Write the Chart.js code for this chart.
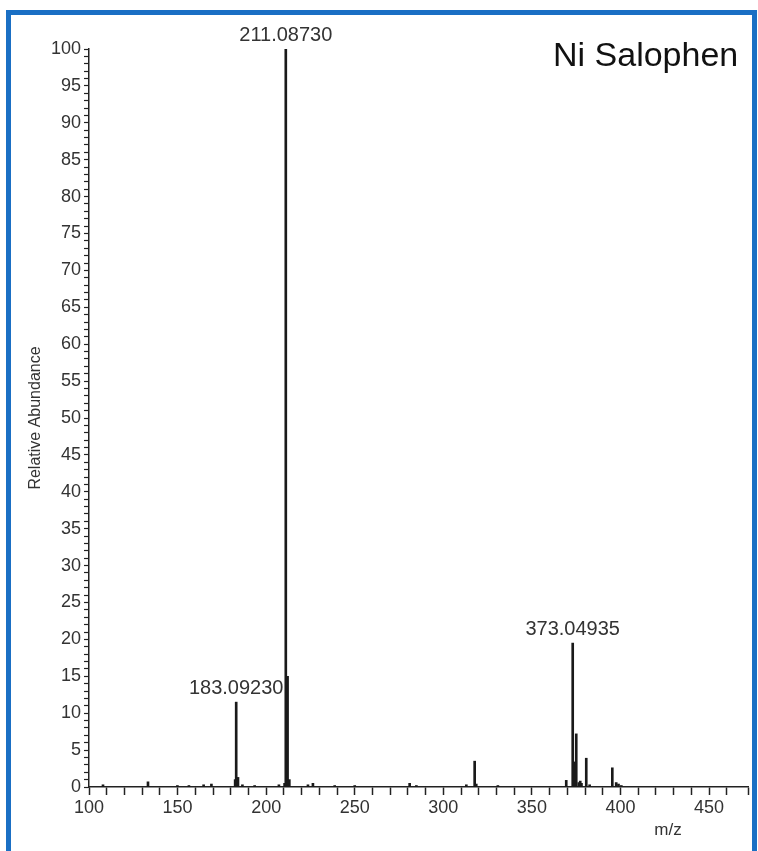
<!DOCTYPE html>
<html>
<head>
<meta charset="utf-8">
<script src="https://cdn.jsdelivr.net/npm/chart.js@4.4.1/dist/chart.umd.min.js"></script>
<style>
  html, body { margin: 0; padding: 0; background: #fff; }
  body { width: 758px; height: 851px; position: relative; overflow: hidden; font-family: "Liberation Sans", Arial, sans-serif; }
  #frame { position: absolute; left: 6px; top: 10px; width: 741px; height: 900px; border: 5px solid #1a6fc4; border-bottom: none; }
  #wrap { position: absolute; left: 0; top: 0; width: 758px; height: 851px; }
  #title { position: absolute; left: 553px; top: 37px; font-size: 34px; line-height: 1; color: #111; white-space: nowrap; }
</style>
</head>
<body>
<div id="frame"></div>
<div id="wrap"><canvas id="myChart" width="758" height="851"></canvas></div>
<div id="title">Ni Salophen</div>
<script>
(function () {
    "use strict";

    // peaks (m/z, relative abundance %)
    const mz = [107.9, 133.3, 149.9, 156.4, 164.7, 169.1, 182.5, 183.09, 184.1, 186.6, 193.5, 207.2,
        210.4, 211.09, 212.09, 213.09, 223.6, 226.4, 238.7, 250.0, 281.0, 284.8, 313.0, 317.7, 318.6,
        330.8, 369.4, 373.05, 374.05, 375.05, 376.5, 377.3, 378.0, 380.7, 382.6, 395.4, 397.6, 398.9, 400.5];
    const abundance = [0.3, 0.7, 0.2, 0.2, 0.3, 0.4, 1.0, 11.5, 1.3, 0.3, 0.2, 0.3,
        0.5, 100, 15.0, 1.0, 0.3, 0.5, 0.2, 0.2, 0.5, 0.2, 0.3, 3.5, 0.4,
        0.2, 0.9, 19.5, 3.4, 7.2, 0.6, 0.8, 0.5, 3.9, 0.3, 2.6, 0.6, 0.4, 0.2];

    // annotated peaks
    const labelMz = [183.09, 211.09, 373.05];
    const labelText = ['183.09230', '211.08730', '373.04935'];

    const xMin = 100, xMax = 472;
    const yMin = 0, yMax = 100;

    const peakLabels = {
        id: 'peakLabels',
        afterDraw(chart) {
            const ctx = chart.ctx;
            const xs = chart.scales.x, ys = chart.scales.y;
            ctx.save();
            ctx.fillStyle = '#333';
            ctx.font = '20px "Liberation Sans", Arial, sans-serif';
            ctx.textAlign = 'center';
            ctx.textBaseline = 'bottom';
            labelMz.forEach(function (m, i) {
                const j = mz.indexOf(m);
                ctx.fillText(labelText[i], xs.getPixelForValue(m), ys.getPixelForValue(abundance[j]) - 4);
            });
            ctx.font = '17px "Liberation Sans", Arial, sans-serif';
            ctx.textBaseline = 'middle';
            ctx.fillText('m/z', 668, 830);
            ctx.restore();
        }
    };

    const ctx = document.getElementById('myChart').getContext('2d');
    const chart = new Chart(ctx, {
        type: 'bar',
        data: {
            datasets: [{
                label: 'Ni Salophen',
                data: mz.map((m, i) => ({ x: m, y: abundance[i] })),
                backgroundColor: '#1a1a1a',
                barThickness: 2
            }]
        },
        options: {
            responsive: false,
            animation: false,
            layout: { padding: { top: 49, right: 10, left: 0, bottom: 0 } },
            plugins: {
                legend: { display: false },
                tooltip: { enabled: false }
            },
            scales: {
                x: {
                    type: 'linear',
                    min: xMin,
                    max: xMax,
                    offset: false,
                    afterFit: s => { s.height = 64; },
                    ticks: {
                        stepSize: 10,
                        autoSkip: false,
                        maxRotation: 0,
                        maxTicksLimit: 200,
                        padding: 2,
                        color: '#333',
                        font: { size: 18, family: '"Liberation Sans", Arial, sans-serif' },
                        callback: v => (v % 50 === 0 ? v : '')
                    },
                    grid: { offset: false, drawOnChartArea: false, drawTicks: true, tickLength: 8, color: '#222', tickWidth: 1.5 },
                    border: { color: '#222', width: 1.5 }
                },
                y: {
                    min: yMin,
                    max: yMax,
                    afterFit: s => { s.width = 89; },
                    ticks: {
                        stepSize: 1,
                        autoSkip: false,
                        maxTicksLimit: 200,
                        padding: 3,
                        color: '#333',
                        font: { size: 18, family: '"Liberation Sans", Arial, sans-serif' },
                        callback: v => (v % 5 === 0 ? v : '')
                    },
                    grid: { drawOnChartArea: false, drawTicks: true, tickLength: 5, color: '#222', tickWidth: 1.2 },
                    border: { color: '#222', width: 1.5 },
                    title: {
                        display: true,
                        text: 'Relative Abundance',
                        color: '#333',
                        font: { size: 16, family: '"Liberation Sans", Arial, sans-serif' },
                        padding: { top: 26, bottom: 0 }
                    }
                }
            }
        },
        plugins: [peakLabels]
    });
})();
</script>
</body>
</html>
